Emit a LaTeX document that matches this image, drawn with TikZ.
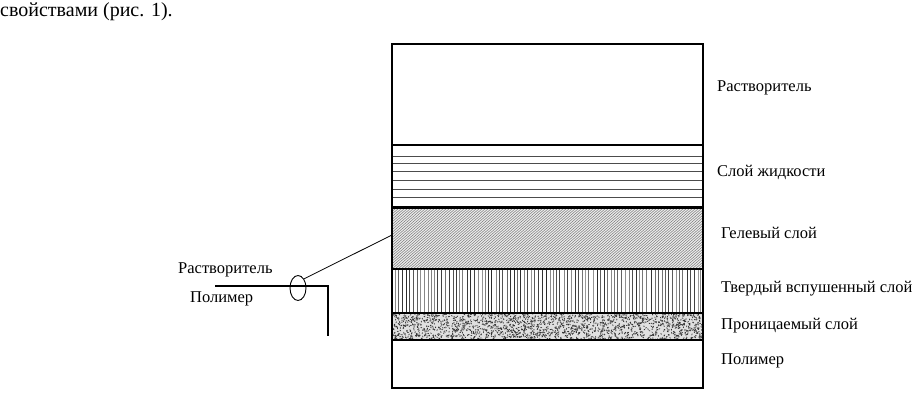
\documentclass[tikz,border=0pt]{standalone}
\usepackage{fontspec}
\usetikzlibrary{shapes.geometric}
\setmainfont{Liberation Serif}
\begin{document}
\begin{tikzpicture}[x=1pt,y=-1pt,
  lbl/.style={anchor=west,inner sep=0pt,font=\fontsize{16.5}{19}\selectfont},
  thick2/.style={line width=2.4pt},
  thinline/.style={line width=0.9pt,black!70}]
\useasboundingbox (0,0) rectangle (915,411);
\pgfmathsetseed{7}
% top text
\node[lbl,font=\fontsize{20}{22}\selectfont] (cap) at (0,12) {свойствами (рис. 1).};
% liquid layer lines
\foreach \y in {156,163,171,180,189,197}
  \draw[thinline] (393,\y) -- (702,\y);
% gel hatching
\begin{scope}
  \clip (393,208) rectangle (702,269);
  \fill[black!8] (393,208) rectangle (702,269);
  \foreach \i in {0,3,...,380}
    \draw[line width=0.45pt,black!55] (393+\i-70,269) -- (393+\i,208);
\end{scope}
% vertical lines
\begin{scope}
  \clip (393,269) rectangle (702,313);
  \foreach \i in {0,...,85}{
    \pgfmathsetmacro{\xx}{395+\i*3.6+rand*0.9}
    \pgfmathsetmacro{\gg}{40+int(rnd*45)}
    \draw[line width=0.7pt,black!\gg] (\xx,269) -- (\xx,313);
  }
\end{scope}
% speckles
\begin{scope}
  \clip (393,313) rectangle (702,340);
  \fill[black!12] (393,313) rectangle (702,340);
  \foreach \i in {1,...,1900}{
    \pgfmathsetmacro{\px}{393+rnd*309}
    \pgfmathsetmacro{\py}{313+rnd*27}
    \pgfmathsetmacro{\pa}{rnd*180}
    \fill[black!80,rotate around={\pa:(\px,\py)}] (\px,\py) ellipse (1.0 and 0.5);
  }
\end{scope}
% boundaries
\draw[thick2] (392,145) -- (703,145);
\draw[thick2] (392,207.5) -- (703,207.5);
\draw[thick2] (392,269) -- (703,269);
\draw[thick2] (392,313) -- (703,313);
\draw[thick2] (392,340) -- (703,340);
\draw[thick2] (392,44) rectangle (703,388);
% right labels
\node[lbl] (l1) at (717,88) {Растворитель};
\node[lbl] (l2) at (717,172) {Слой жидкости};
\node[lbl] (l3) at (721,233) {Гелевый слой};
\node[lbl] (l4) at (721,289) {Твердый вспушенный слой};
\node[lbl] (l5) at (721,326) {Проницаемый слой};
\node[lbl] (l6) at (721,361) {Полимер};
% left element
\node[lbl] (s1) at (178,270) {Растворитель};
\node[lbl] (s2) at (190,299) {Полимер};
\coordinate (a) at (215,286);
\coordinate (b) at (328,286);
\coordinate (c) at (328,336);
\draw[line width=2.4pt] (a) -- (b) -- (c);
\node[draw,ellipse,minimum width=16pt,minimum height=25pt,inner sep=0pt,line width=0.9pt] (e) at (298,288) {};
\coordinate (g) at (392,235);
\draw[line width=0.8pt] (e.north east) -- (g);
\end{tikzpicture}
\end{document}
